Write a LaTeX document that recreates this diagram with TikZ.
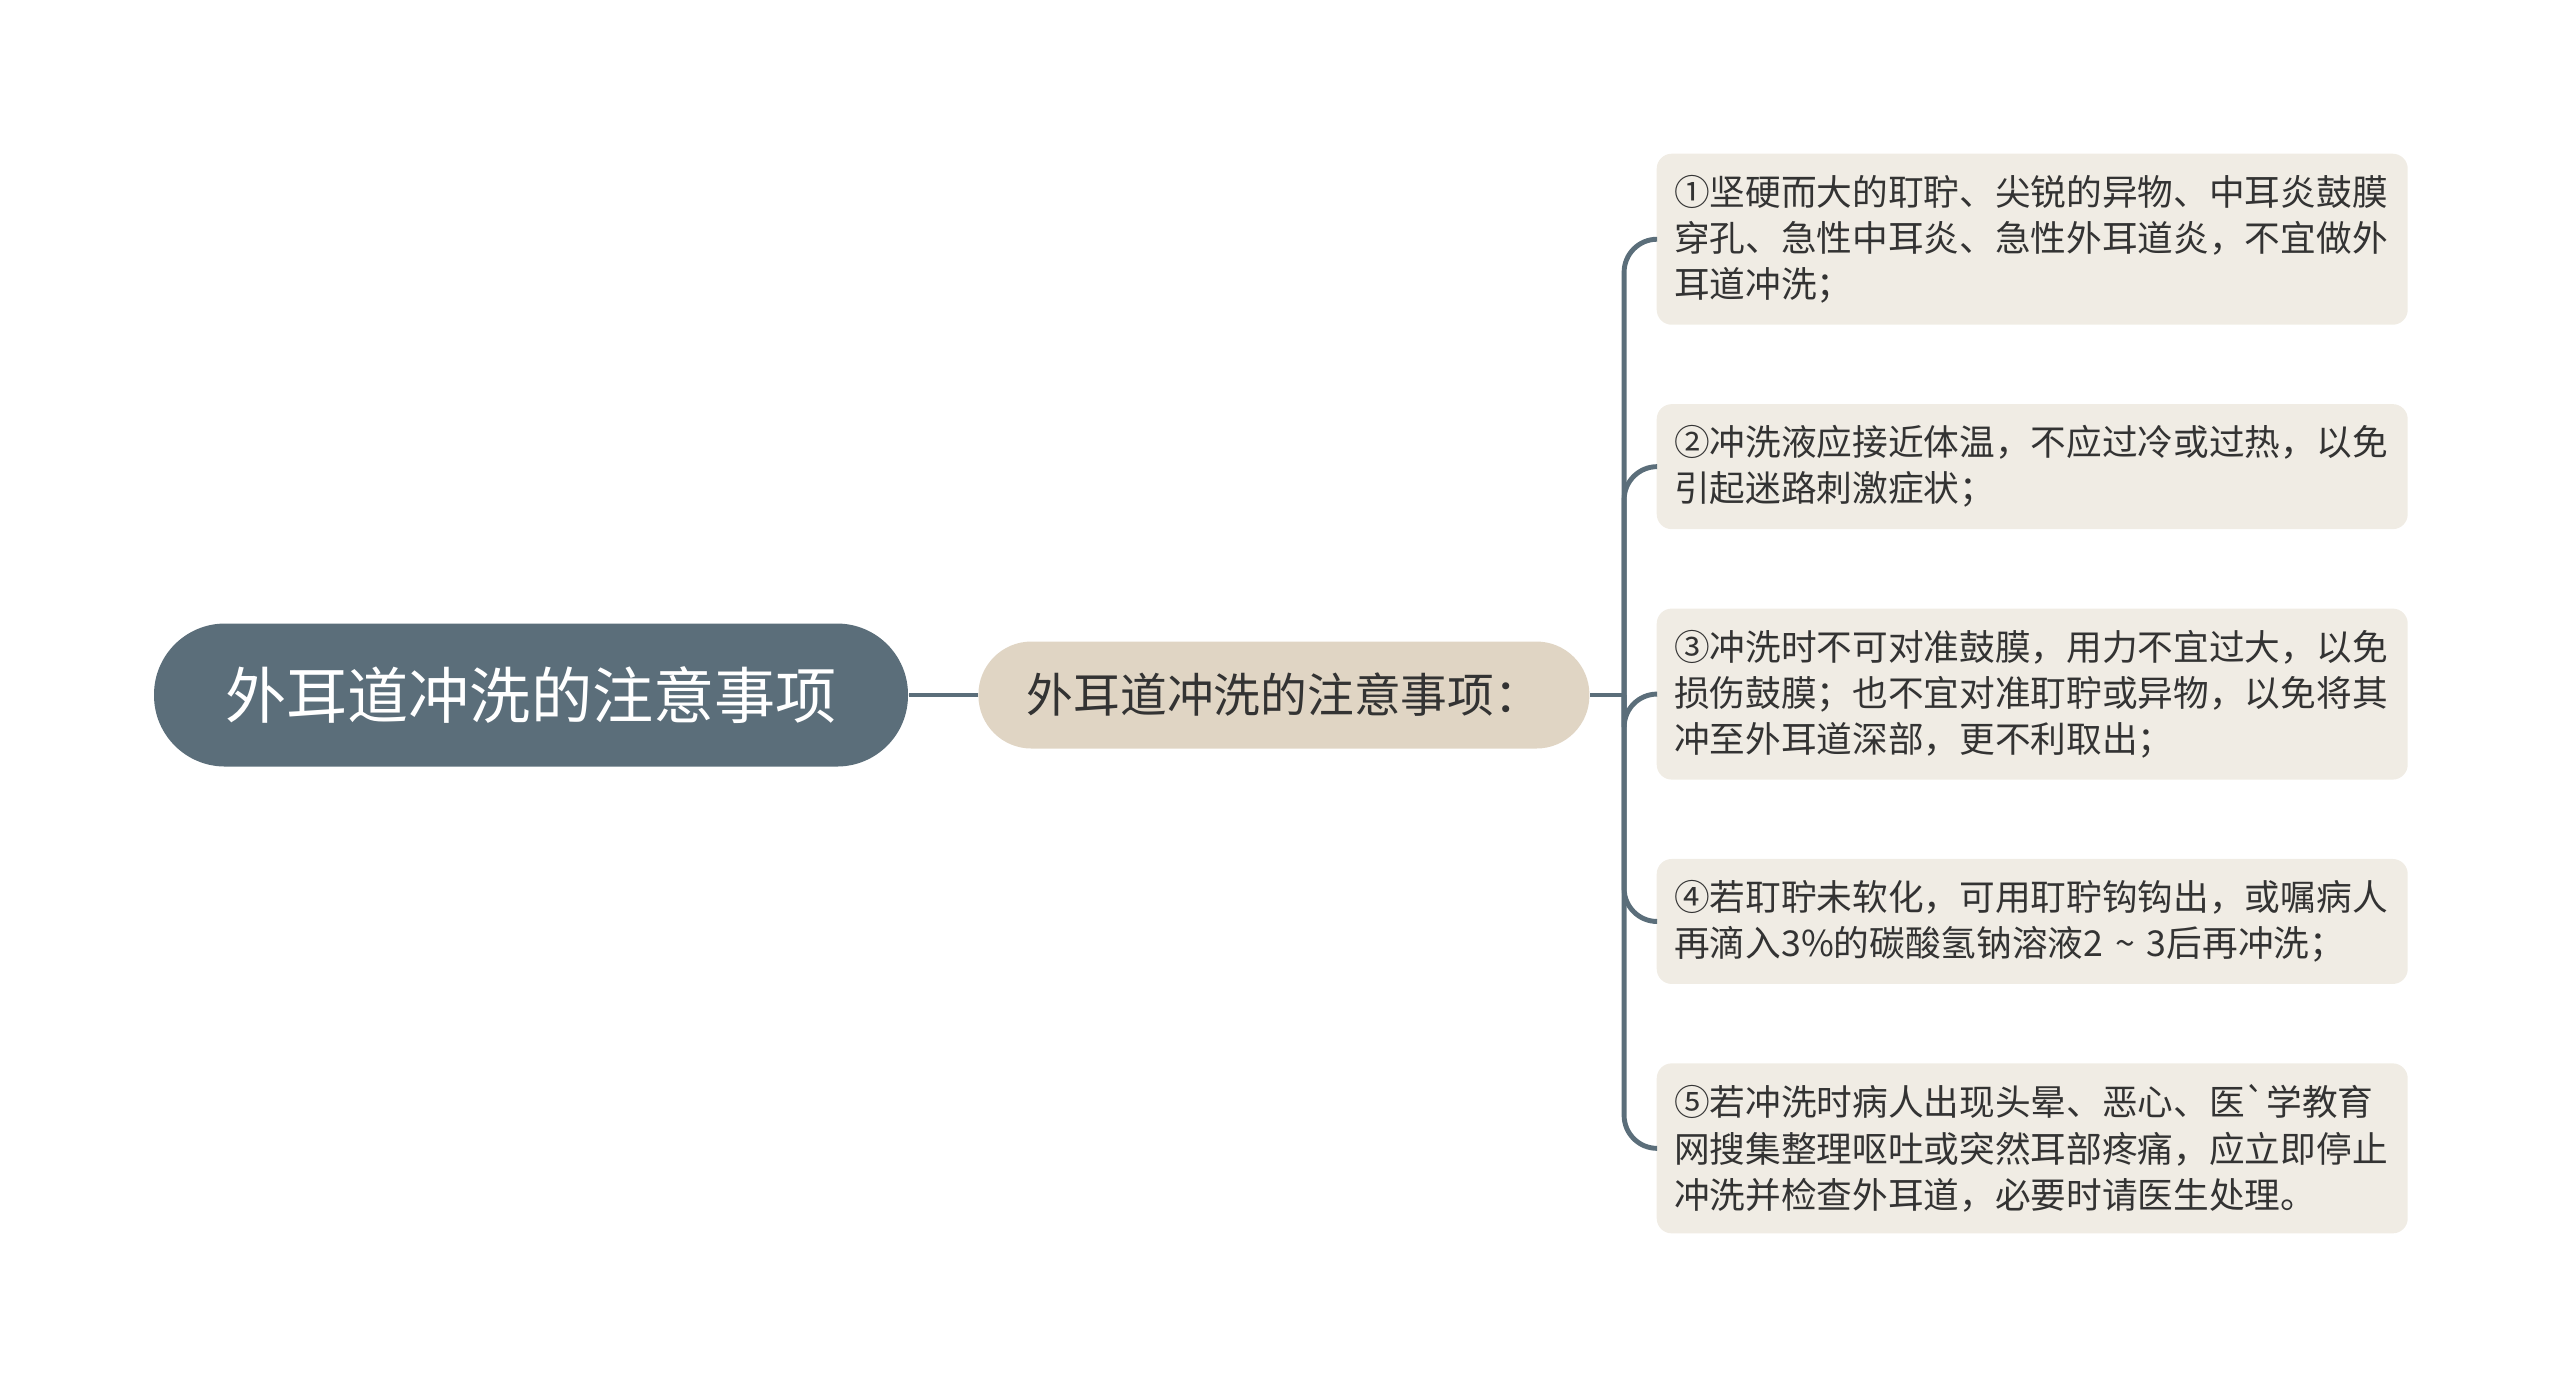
\documentclass[tikz,border=0pt]{standalone}
\usepackage{fontspec}
\setmainfont{Noto Sans CJK SC}
\usetikzlibrary{positioning}
\definecolor{slate}{HTML}{5B6E7A}
\definecolor{sand}{HTML}{E0D5C4}
\definecolor{paper}{HTML}{F0ECE4}
\definecolor{ink}{HTML}{333333}

\begin{document}
\begin{tikzpicture}[
    node distance=0.78cm and 0.69cm,
    % Estilos de nodos
    root/.style={rectangle, fill=slate, text=white, rounded corners=0.71cm, minimum width=7.54cm, minimum height=1.43cm, font=\fontsize{17.4pt}{20pt}\selectfont},
    topic/.style={rectangle, fill=sand, text=ink, rounded corners=0.53cm, minimum width=6.11cm, minimum height=1.07cm, font=\fontsize{13.3pt}{16pt}\selectfont},
    leaf/.style={rectangle, fill=paper, text=ink, rounded corners=0.15cm, text width=7.16cm, inner xsep=0.175cm, inner ysep=0.215cm, align=left, font=\fontsize{10.15pt}{13.1pt}\selectfont},
    % Estilos de conectores
    link/.style={draw=slate, line width=1.4pt, rounded corners=0.33cm}
]
\useasboundingbox (0,0) rectangle (25.6,-13.9);

% --- Nodo central ---
\node[root] (root) at (5.31,-6.95) {外耳道冲洗的注意事项};
\node[topic] (topic) [right=of root] {外耳道冲洗的注意事项：};
\coordinate [right=0.34cm of topic.east] (fork);

% --- Hojas ---
\node[leaf, anchor=north west] (tip1) at (16.56,-1.53) {①坚硬而大的耵聍、尖锐的异物、中耳炎鼓膜\\穿孔、急性中耳炎、急性外耳道炎，不宜做外\\耳道冲洗；};
\node[leaf] (tip2) [below=of tip1] {②冲洗液应接近体温，不应过冷或过热，以免\\引起迷路刺激症状；};
\node[leaf] (tip3) [below=of tip2] {③冲洗时不可对准鼓膜，用力不宜过大，以免\\损伤鼓膜；也不宜对准耵聍或异物，以免将其\\冲至外耳道深部，更不利取出；};
\node[leaf] (tip4) [below=of tip3] {④若耵聍未软化，可用耵聍钩钩出，或嘱病人\\再滴入3\%的碳酸氢钠溶液2 \textasciitilde{} 3后再冲洗；};
\node[leaf] (tip5) [below=of tip4] {⑤若冲洗时病人出现头晕、恶心、医\textasciigrave 学教育\\网搜集整理呕吐或突然耳部疼痛，应立即停止\\冲洗并检查外耳道，必要时请医生处理。};

% --- Conectores ---
\draw[link] (root) -- (topic);
\draw[link] (topic) -- (fork);
\foreach \i in {1,...,5}
    \draw[link] (fork) |- (tip\i.west);

\end{tikzpicture}
\end{document}
